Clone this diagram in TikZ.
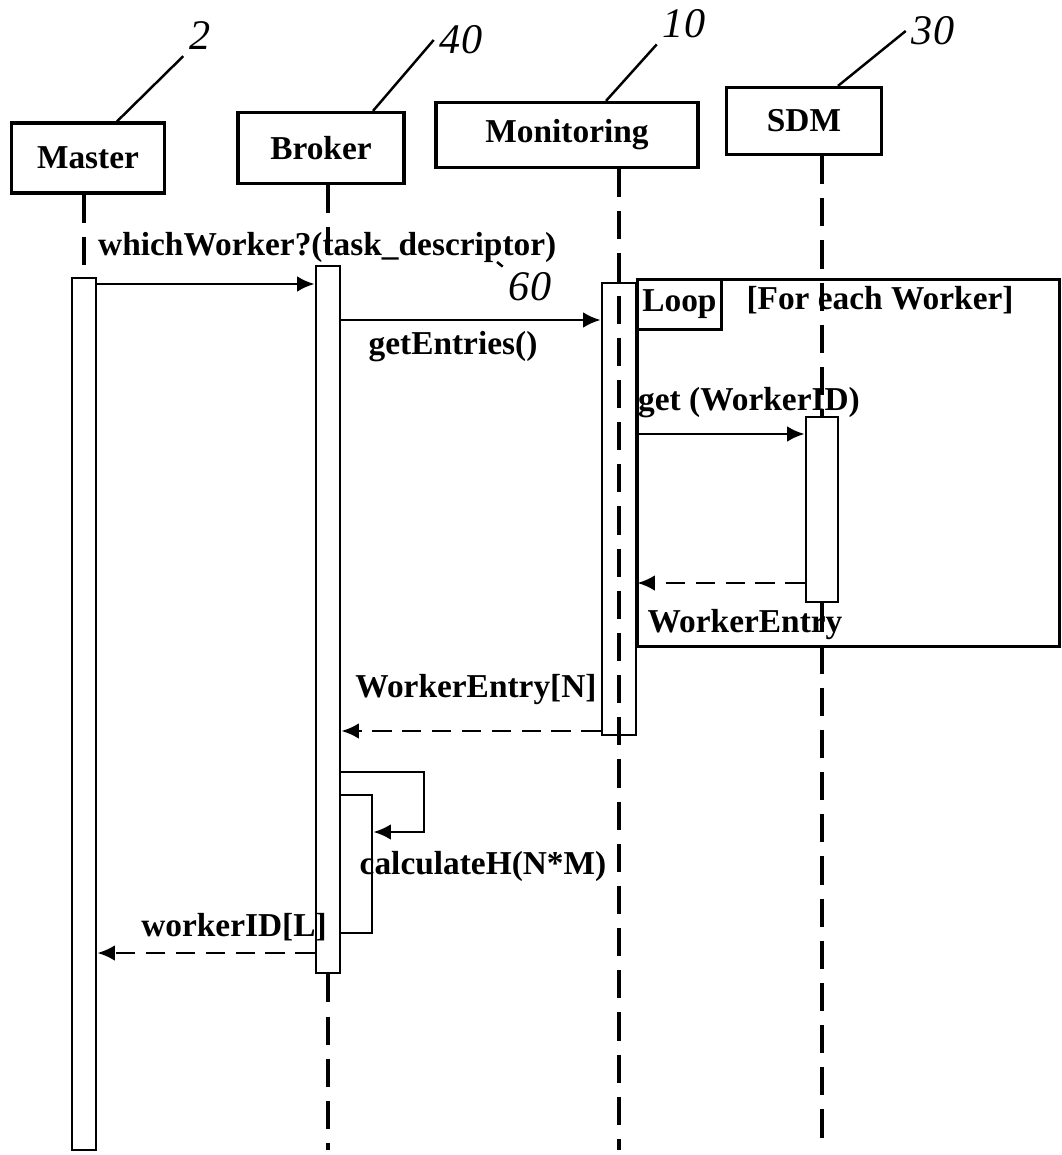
\documentclass[tikz,border=0pt]{standalone}
\usepackage{fontspec}
\setmainfont{Liberation Serif}
\usetikzlibrary{arrows.meta,positioning,calc}

\begin{document}
\begin{tikzpicture}[
    x=0.02cm, y=-0.02cm,
    font=\bfseries\fontsize{19}{22}\selectfont,
    >={Latex[length=10pt,width=9pt]},
    head/.style={draw, line width=1.8pt, inner sep=0pt},
    bar/.style={draw, line width=1.6pt, fill=white, inner sep=0pt},
    life/.style={line width=1.8pt, dash pattern=on 16pt off 8pt},
    call/.style={->, line width=1.6pt},
    reply/.style={->, line width=1.6pt, dash pattern=on 11pt off 6pt},
    refnum/.style={font=\itshape\fontsize{24}{26}\selectfont},
    leader/.style={line width=1.4pt},
]
\useasboundingbox (0,0) rectangle (1061,1155);

% === Lifeline heads ===
\node[head, minimum width=3.06cm, minimum height=1.4cm] (master) at (88,158) {Master};
\node[head, minimum width=3.32cm, minimum height=1.42cm] (broker) at (321,148) {Broker};
\node[head, minimum width=5.24cm, minimum height=1.3cm] (monitor) at (567,135) {Monitoring};
\node[head, minimum width=3.1cm, minimum height=1.34cm] (sdm) at (804,121) {SDM};

% Message levels
\coordinate (m1) at (0,284);
\coordinate (m2) at (0,320);
\coordinate (m3) at (0,434);
\coordinate (m4) at (0,583);
\coordinate (m5) at (0,731);
\coordinate (self) at (424,772);
\coordinate (m6) at (0,832);
\coordinate (m7) at (0,953);
\coordinate (bottom) at (0,1150);

% === Activation bars ===
\node[bar, minimum width=0.48cm, minimum height=17.44cm] (mbar) at (84,714) {};
\node[bar, minimum width=0.48cm, minimum height=14.14cm] (bbar) at (328,619.5) {};
\node[bar, minimum width=0.64cm, minimum height=2.76cm] (cbar) at (356,864) {};
\node[bar, minimum width=0.68cm, minimum height=9.04cm] (monbar) at (619,509) {};
\node[bar, minimum width=0.64cm, minimum height=3.7cm] (sbar) at (822,509.5) {};

% === Lifelines ===
\draw[life] (mbar.north |- master.south) -- (mbar.north);
\draw[life] (bbar.north |- broker.south) -- (bbar.north);
\draw[life] (bbar.south) -- (bbar.south |- bottom);
\draw[life] (monbar.north |- monitor.south) -- (monbar.south |- bottom);
\draw[life] (sbar.north |- sdm.south) -- (sbar.north);
\draw[life] (sbar.south) -- ([yshift=0.2cm]sbar.south |- bottom);

% === Loop frame ===
\node[draw, line width=1.6pt, inner sep=0pt, anchor=north west,
      minimum width=8.44cm, minimum height=7.34cm] (loop) at (636,278) {};
\node[draw, line width=1.6pt, inner sep=0pt, anchor=north west,
      minimum width=1.68cm, minimum height=1.0cm] (looptab) at (loop.north west) {Loop};
\node (guard) at (880,300) {[For each Worker]};

% === Messages ===
\draw[call] (mbar.east |- m1) -- (bbar.west |- m1);
\draw[call] (bbar.east |- m2) -- (monbar.west |- m2);
\draw[call] (monbar.east |- m3) -- (sbar.west |- m3);
\draw[reply] (sbar.west |- m4) -- (monbar.east |- m4);
\draw[reply] (monbar.west |- m5) -- (bbar.east |- m5);
\draw[call] (bbar.east |- self) -- (self) -- (self |- m6) -- (cbar.east |- m6);
\draw[reply] (bbar.west |- m7) -- (mbar.east |- m7);

% Message labels
\node[anchor=west] (lwhich) at (92,247) {whichWorker?(task\_descriptor)};
\node (lentries) at (453,347) {getEntries()};
\node[anchor=west] (lget) at (632,403) {get (WorkerID)};
\node (lentry) at (745,625) {WorkerEntry};
\node (lentryn) at (476,690) {WorkerEntry[N]};
\node (lcalc) at (483,866) {calculateH(N*M)};
\node (lworker) at (234,927) {workerID[L]};

% === Reference numerals ===
\node[refnum] (n2) at (200,36) {2};
\node[refnum] (n40) at (461,40) {40};
\node[refnum] (n10) at (684,24) {10};
\node[refnum] (n30) at (933,31) {30};
\node[refnum] (n60) at (530,287) {60};
\draw[leader] ([xshift=0.58cm]master.north) -- (n2.south west);
\draw[leader] ([xshift=1.04cm]broker.north) -- (n40.west);
\draw[leader] ([xshift=0.78cm]monitor.north) -- (n10.south west);
\draw[leader] ([xshift=0.68cm]sdm.north) -- (n30.west);
\coordinate (t60) at (497,262);
\draw[leader] (t60) -- (n60.north west);

\end{tikzpicture}
\end{document}
